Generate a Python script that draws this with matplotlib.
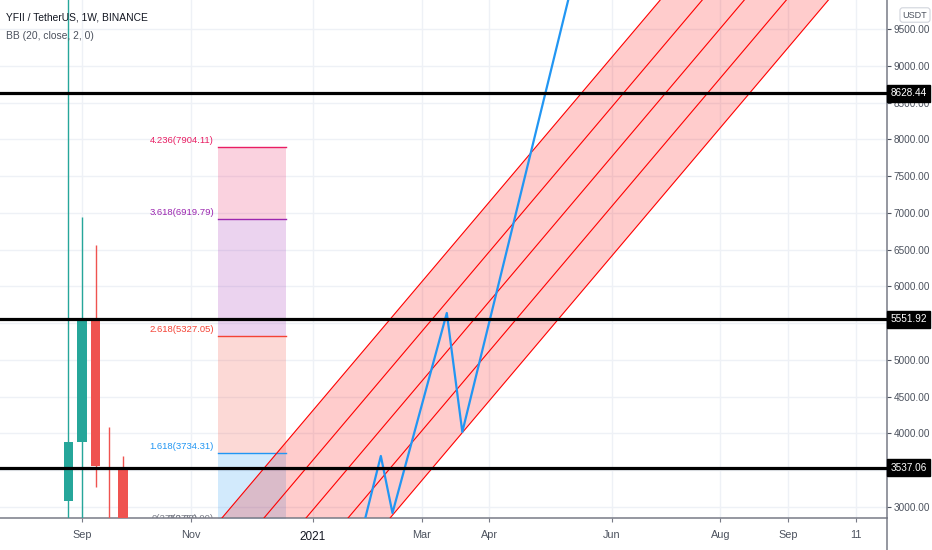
import numpy as np
import matplotlib
matplotlib.use("Agg")
import matplotlib.pyplot as plt
import matplotlib.dates as mdates
from matplotlib.lines import Line2D
from matplotlib.transforms import ScaledTranslation

plt.rcParams['font.family'] = ['Liberation Sans', 'DejaVu Sans']

# weekly candles (YFII/USDT)
candle_dates = ["2020-08-31", "2020-09-07", "2020-09-14", "2020-09-21", "2020-09-28"]
opens = [3082, 3884, 5544, 2820, 3517]
highs = [12500, 6946, 6565, 4088, 3694]
lows = [2400, 2400, 3272, 2400, 2400]
closes = [3884, 5544, 3558, 2600, 2600]

# horizontal levels
levels = [8628.44, 5551.92, 3537.06]

# fib extension box
fib_start = "2020-11-16"
fib_end = "2020-12-21"
fib_ratios = ["0", "1.618", "2.618", "3.618", "4.236"]
fib_prices = [2750.00, 3734.31, 5327.05, 6919.79, 7904.11]
fib_colors = ["#787b86", "#2196f3", "#f44336", "#9c27b0", "#e91e63"]

# parallel channel: top line anchors + price step between lines
chan_dates = ["2020-10-01", "2021-11-15"]
chan_top = [1350, 14140]
chan_step = 676
chan_count = 5

# blue projection path
path_dates = ["2021-01-30", "2021-02-08", "2021-02-14", "2021-03-14", "2021-03-22", "2021-05-30"]
path_prices = [2745, 3694, 2918, 5639, 4020, 11450]

tick_dates = ["2020-09-07", "2020-11-02", "2021-01-04", "2021-03-01", "2021-04-05",
              "2021-06-07", "2021-08-02", "2021-09-06", "2021-10-11"]
tick_labels = ["Sep", "Nov", "2021", "Mar", "Apr", "Jun", "Aug", "Sep", "11"]
y_ticks = np.arange(3000, 9501, 500)

d = lambda s: mdates.date2num(np.datetime64(s))

fig = plt.figure(figsize=(9.32, 5.5), dpi=100)
ax = fig.add_axes([0, 32/550, 887/932, 518/550])

ax.set_xlim(d("2020-09-07") - 42.3, d("2020-09-07") + 414.9)
ax.set_ylim(2850, 9898)

# grid
ax.set_xticks([d(t) for t in tick_dates])
ax.set_xticklabels(tick_labels)
ax.set_yticks(y_ticks)
ax.set_yticklabels([f"{v:.2f}" for v in y_ticks])
ax.grid(color="#eef1f6", lw=1)
ax.set_axisbelow(True)

# fib box fills
fs, fe = d(fib_start), d(fib_end)
for i in range(1, len(fib_prices)):
    ax.fill_between([fs, fe], fib_prices[i-1], fib_prices[i], color=fib_colors[i],
                    alpha=0.2, lw=0, zorder=1)
for r, p, c in zip(fib_ratios, fib_prices, fib_colors):
    ax.plot([fs, fe], [p, p], color=c, lw=1, zorder=3)
    off = ax.transData + ScaledTranslation(-4/100, 2/100, fig.dpi_scale_trans)
    ax.text(fs, p, f"{r}({p:.2f})", transform=off, ha="right", va="bottom",
            color=c, fontsize=6.8, clip_on=True)
off2 = ax.transData + ScaledTranslation(-20/100, 2/100, fig.dpi_scale_trans)
ax.text(fs, fib_prices[0], f"{fib_ratios[0]}({fib_prices[0]:.2f})", transform=off2,
        ha="right", va="bottom", color=fib_colors[0], fontsize=6.8, clip_on=True)

# channel
cx = [d(s) for s in chan_dates]
top = np.array(chan_top, dtype=float)
bottom = top - chan_step * (chan_count - 1)
ax.fill_between(cx, bottom, top, color="#ff0000", alpha=0.2, lw=0, zorder=2)
for k in range(chan_count):
    ax.plot(cx, top - chan_step * k, color="#ff0000", lw=0.8, zorder=3)

# candles
for dt, o, h, l, c in zip(candle_dates, opens, highs, lows, closes):
    col = "#26a69a" if c >= o else "#ef5350"
    x = d(dt)
    ax.vlines(x, l, h, color=col, lw=1, zorder=4)
    ax.bar(x, c - o, bottom=o, width=5, color=col, zorder=4)

# projection path
ax.plot([d(s) for s in path_dates], path_prices, color="#2196f3", lw=1.6, zorder=5)

# horizontal levels
for lv in levels:
    ax.axhline(lv, color="black", lw=2.3, zorder=6)
    ax.text(1.004, lv, f"{lv:.2f}", transform=ax.get_yaxis_transform(), ha="left",
            va="center", color="white", fontsize=7.2, clip_on=False, zorder=10,
            bbox=dict(boxstyle="square,pad=0.32", fc="black", ec="black"))

# axes styling
ax.yaxis.tick_right()
for s in ["top", "left"]:
    ax.spines[s].set_visible(False)
for s in ["right", "bottom"]:
    ax.spines[s].set_color("#787b86")
    ax.spines[s].set_linewidth(1.1)
ax.tick_params(axis="y", length=3, width=0.8, pad=2, labelsize=7.2, colors="#4c525e",
               labelcolor="#4c525e")
ax.tick_params(axis="x", length=3, width=0.8, pad=6, labelsize=7.8, colors="#787b86",
               labelcolor="#4c525e")
for lab in ax.get_xticklabels():
    if lab.get_text() == "2021":
        lab.set_color("#131722")
        lab.set_fontsize(8.5)

fig.add_artist(Line2D([887/932, 887/932], [0, 32/550], color="#787b86", lw=1.1))

fig.text(6/932, 1 - 17/550, "YFII / TetherUS, 1W, BINANCE", fontsize=7.4, color="#131722",
         va="center", ha="left")
fig.text(6/932, 1 - 36/550, "BB (20, close, 2, 0)", fontsize=7.4, color="#4c525e",
         va="center", ha="left")
fig.text(915/932, 1 - 15/550, "USDT", fontsize=6.5, color="#4c525e", ha="center", va="center",
         bbox=dict(boxstyle="round,pad=0.3", fc="white", ec="#d1d4dc", lw=0.8))

fig.savefig("out.png", dpi=100)
